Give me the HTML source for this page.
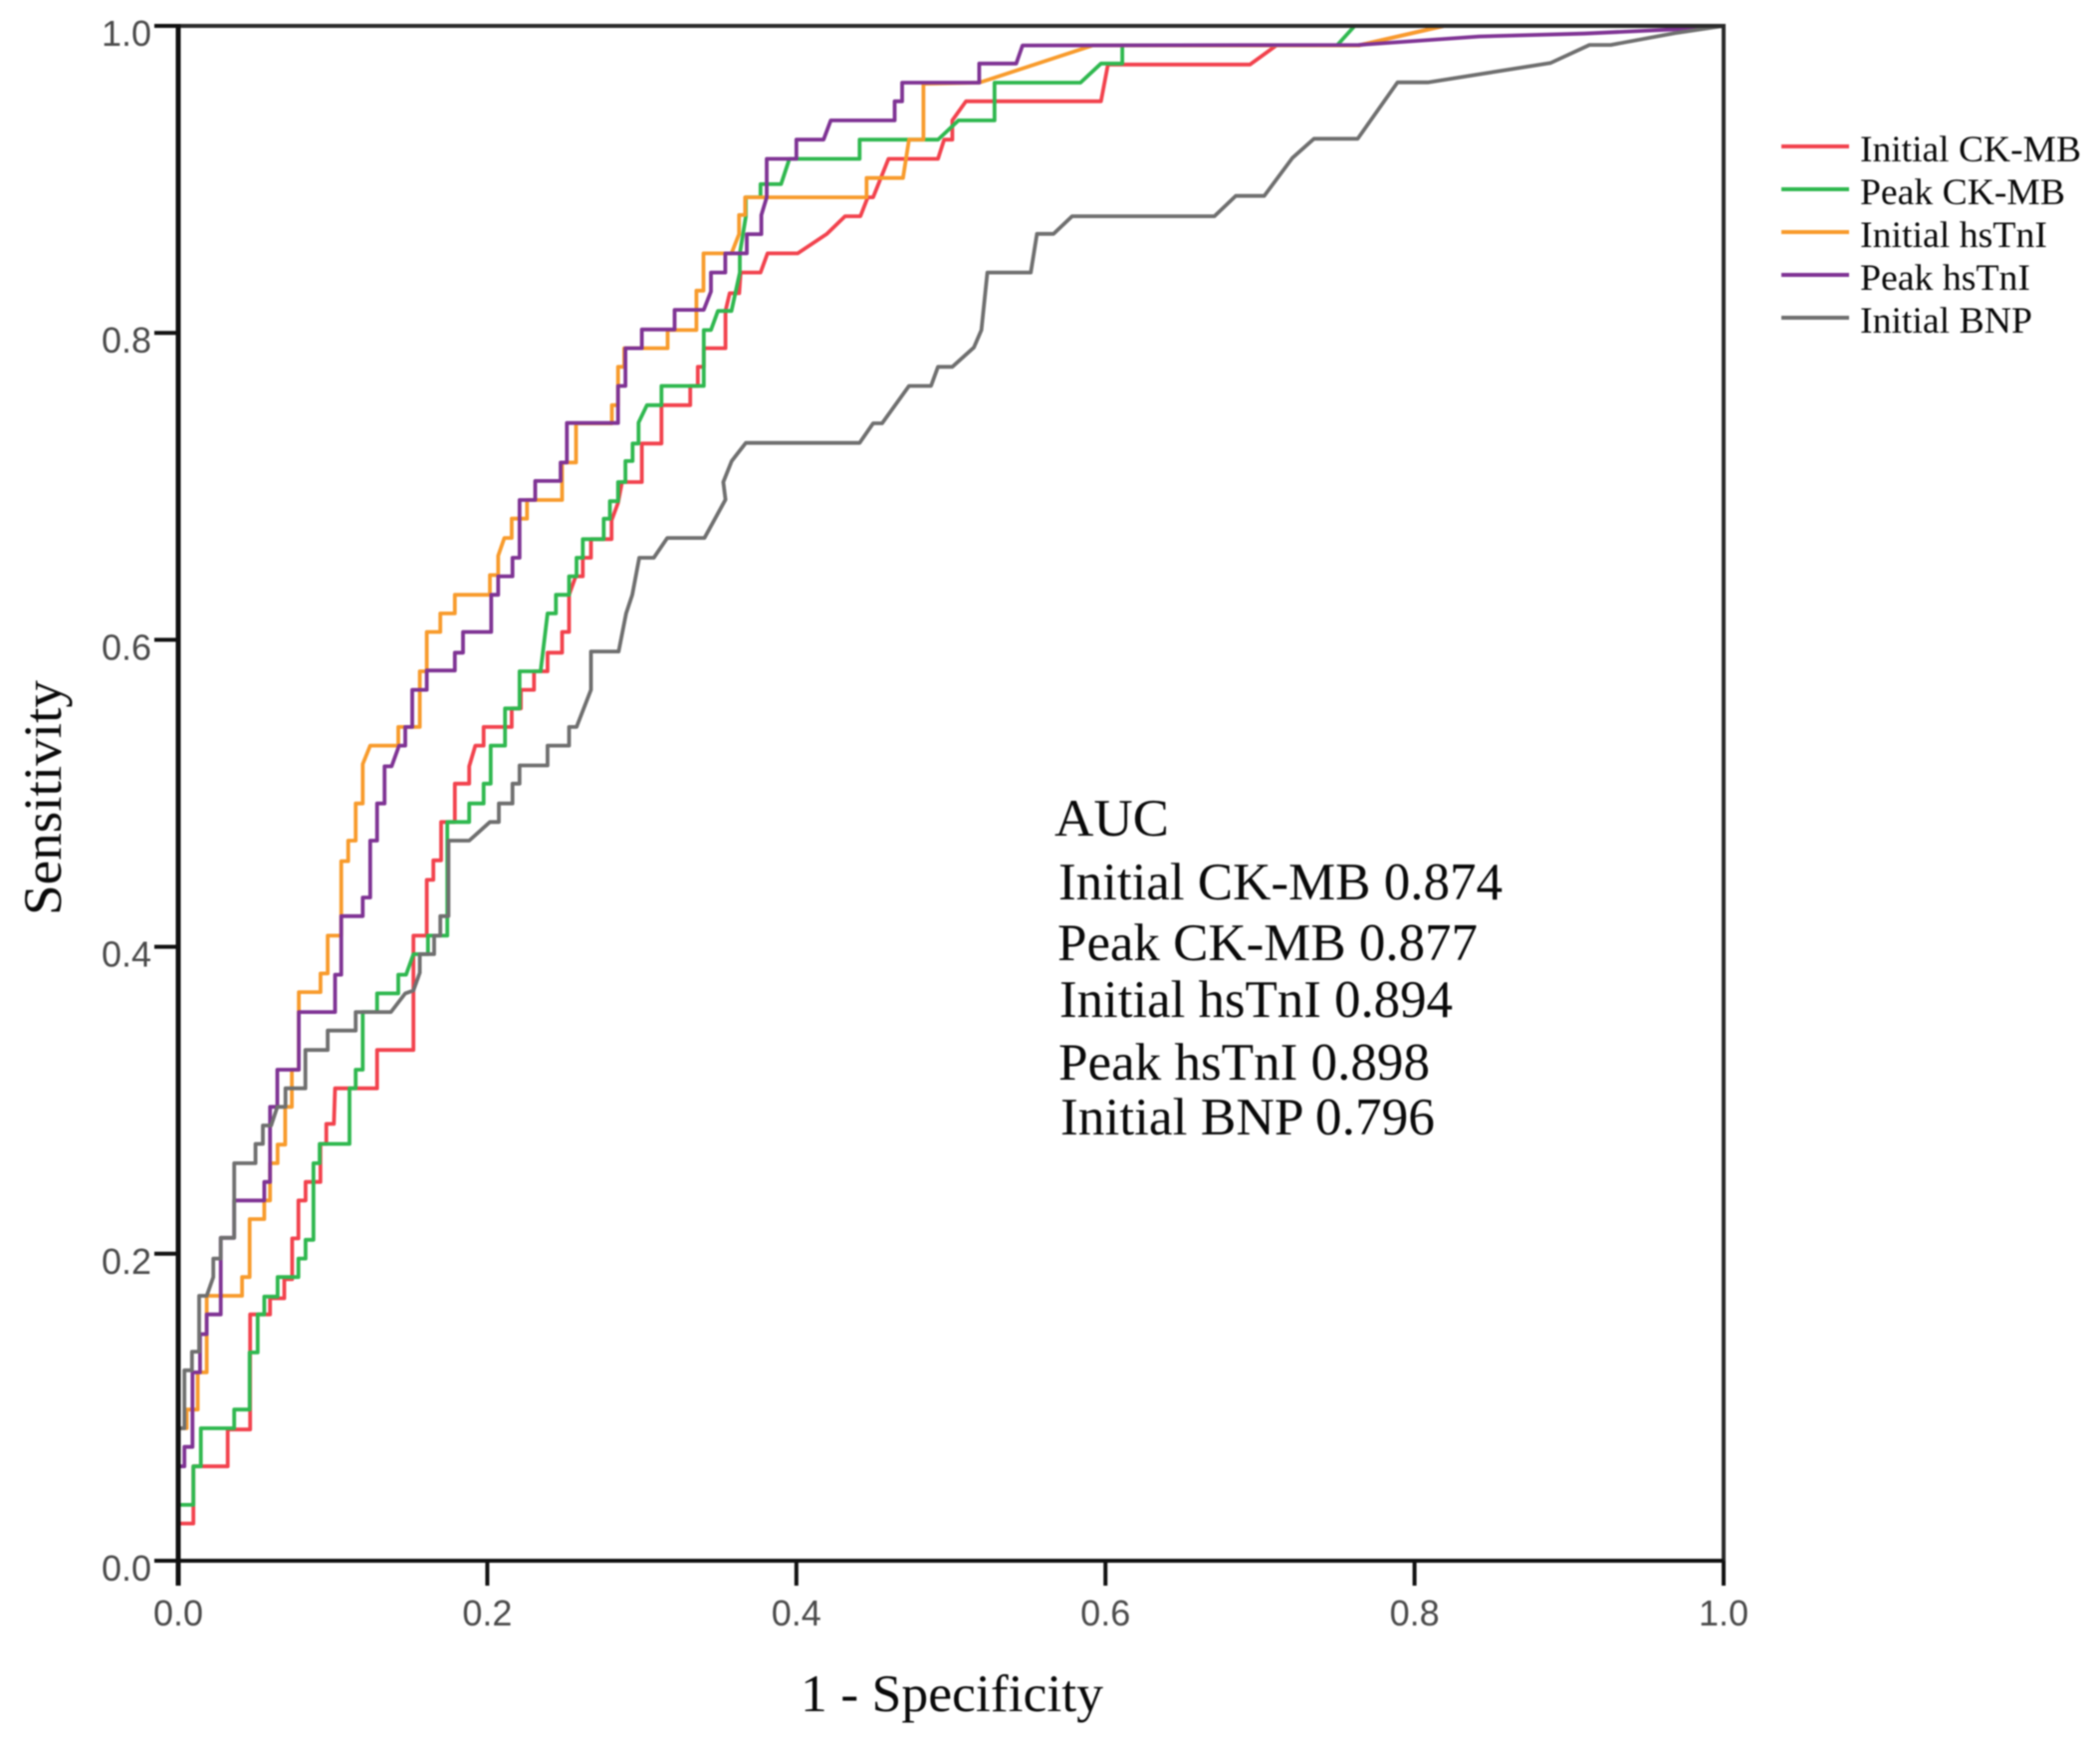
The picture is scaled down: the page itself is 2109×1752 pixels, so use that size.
<!DOCTYPE html>
<html lang="en">
<head>
<meta charset="utf-8">
<title>ROC curves</title>
<style>
  html, body { margin: 0; padding: 0; background: #fff; }
  #chart { display: block; width: 2109px; height: 1752px; }
  #chart-content { filter: blur(0.8px); }
  .serif { font-family: "Liberation Serif", serif; fill: #0a0a0a; }
  .tick-label { font-family: "Liberation Sans", sans-serif; font-size: 36px; fill: #4a4a4a; }
</style>
</head>
<body>
<svg id="chart" xmlns="http://www.w3.org/2000/svg" width="2109" height="1752" viewBox="0 0 2109 1752">
  <rect width="2109" height="1752" fill="#fff"/>
  <g id="chart-content">
    <g id="curves"></g>
    <rect x="179" y="26" width="1552" height="1541" fill="none" stroke="#2a2a2a" stroke-width="4"/>
    <g id="axes"></g>

    <text class="serif" x="804" y="1718" font-size="53" textLength="304" lengthAdjust="spacingAndGlyphs">1 - Specificity</text>
    <text class="serif" transform="translate(61 919) rotate(-90)" font-size="54" textLength="236" lengthAdjust="spacingAndGlyphs">Sensitivity</text>

    <g>
      <g>
        <line x1="1789" x2="1857" y1="147" y2="147" stroke="#f2424d" stroke-width="4"/>
        <text class="serif" x="1868" y="162" font-size="37" textLength="222" lengthAdjust="spacingAndGlyphs">Initial CK-MB</text>
      </g>
      <g>
        <line x1="1789" x2="1857" y1="190" y2="190" stroke="#2fb84f" stroke-width="4"/>
        <text class="serif" x="1868" y="205" font-size="37" textLength="206" lengthAdjust="spacingAndGlyphs">Peak CK-MB</text>
      </g>
      <g>
        <line x1="1789" x2="1857" y1="233" y2="233" stroke="#f89b2c" stroke-width="4"/>
        <text class="serif" x="1868" y="248" font-size="37" textLength="188" lengthAdjust="spacingAndGlyphs">Initial hsTnI</text>
      </g>
      <g>
        <line x1="1789" x2="1857" y1="276" y2="276" stroke="#7f3394" stroke-width="4"/>
        <text class="serif" x="1868" y="291" font-size="37" textLength="171" lengthAdjust="spacingAndGlyphs">Peak hsTnI</text>
      </g>
      <g>
        <line x1="1789" x2="1857" y1="319" y2="319" stroke="#6f6f6f" stroke-width="4"/>
        <text class="serif" x="1868" y="334" font-size="37" textLength="173" lengthAdjust="spacingAndGlyphs">Initial BNP</text>
      </g>
    </g>

    <g>
      <text class="serif" x="1059" y="839" font-size="53" textLength="115" lengthAdjust="spacingAndGlyphs">AUC</text>
      <text class="serif" x="1063" y="903" font-size="53" textLength="446" lengthAdjust="spacingAndGlyphs">Initial CK-MB 0.874</text>
      <text class="serif" x="1062" y="964" font-size="53" textLength="422" lengthAdjust="spacingAndGlyphs">Peak CK-MB 0.877</text>
      <text class="serif" x="1064" y="1021" font-size="53" textLength="395" lengthAdjust="spacingAndGlyphs">Initial hsTnI 0.894</text>
      <text class="serif" x="1063" y="1084" font-size="53" textLength="373" lengthAdjust="spacingAndGlyphs">Peak hsTnI 0.898</text>
      <text class="serif" x="1065" y="1139" font-size="53" textLength="376" lengthAdjust="spacingAndGlyphs">Initial BNP 0.796</text>
    </g>
  </g>
</svg>
<script>
const xTickLabels = ["0.0", "0.2", "0.4", "0.6", "0.8", "1.0"];
const yTickLabels = ["0.0", "0.2", "0.4", "0.6", "0.8", "1.0"];
const xTickValues = [0, 0.2, 0.4, 0.6, 0.8, 1];
const yTickValues = [0, 0.2, 0.4, 0.6, 0.8, 1];

const initialCkMbFpr = [0,.0098,.0098,.032,.032,.0465,.0465,.0594,.0594,.0686,.0686,.0737,.0737,.0778,.0778,.0824,.0824,.092,.092,.0958,.0958,.1007,.1015,.1287,.1287,.1522,.1522,.1608,.1608,.1651,.1651,.1701,.1701,.179,.179,.1883,.1883,.1923,.1976,.1976,.2158,.2158,.2217,.2217,.2302,.2302,.239,.239,.2484,.2484,.2529,.2529,.2572,.2618,.2618,.2671,.2671,.2804,.2804,.2846,.2872,.3,.3,.3127,.3127,.3313,.3313,.3362,.3362,.3401,.3401,.3541,.3541,.3568,.363,.3639,.3768,.3813,.4008,.4195,.4315,.4414,.4462,.4497,.4596,.4916,.4956,.5009,.5009,.5097,.5971,.6016,.6935,.7106,.7637,.819,1];
const initialCkMbTpr = [.0243,.0243,.0615,.0615,.0855,.0855,.1605,.1605,.171,.171,.1834,.1834,.21,.21,.2347,.2347,.2468,.2468,.2716,.2716,.2846,.2846,.3078,.3078,.3328,.3328,.4073,.4073,.4436,.4436,.4563,.4563,.4813,.4813,.5063,.5063,.5176,.5311,.5311,.5432,.5432,.5553,.5553,.5674,.5674,.5795,.5795,.5916,.5916,.6051,.6051,.6293,.6414,.6414,.6535,.6535,.6656,.6656,.6778,.6892,.7028,.7028,.7279,.7279,.7529,.7529,.7654,.7654,.7779,.7779,.79,.79,.8143,.8258,.8258,.8393,.8393,.8518,.8518,.8643,.876,.876,.8883,.8883,.9134,.9134,.9259,.9259,.9384,.9509,.9509,.9748,.9748,.9873,.9873,1,1];

const peakCkMbFpr = [0,.0098,.0098,.0146,.0146,.0362,.0362,.0462,.0462,.0514,.0514,.0557,.0557,.0643,.0643,.0778,.0778,.0824,.0824,.0875,.0875,.0915,.0915,.1108,.1108,.1148,.1148,.1194,.1194,.1287,.1287,.1424,.1424,.1474,.1522,.1616,.1616,.1741,.1741,.1883,.1883,.1976,.1976,.2022,.2022,.2115,.2115,.2209,.2209,.2345,.239,.2444,.2444,.2529,.2529,.2577,.2577,.2618,.2618,.2753,.2753,.2793,.2793,.2846,.2846,.2894,.2894,.294,.294,.2979,.2979,.3033,.3127,.3127,.3401,.3401,.3447,.3492,.358,.3634,.3634,.3673,.3673,.3768,.3768,.3901,.3955,.4409,.4409,.4916,.5049,.5282,.5282,.5838,.5971,.6109,.6109,.7498,.7613,1];
const peakCkMbTpr = [.0364,.0364,.0615,.0615,.0863,.0863,.0985,.0985,.1357,.1357,.1605,.1605,.1721,.1721,.1848,.1848,.1969,.1969,.2091,.2091,.259,.259,.2716,.2716,.3078,.3078,.3199,.3199,.3575,.3575,.3696,.3696,.3818,.3818,.3952,.3952,.4073,.4073,.4813,.4813,.4934,.4934,.5063,.5063,.5311,.5311,.5553,.5553,.5795,.5795,.6172,.6172,.6293,.6293,.6414,.6414,.6535,.6535,.6656,.6656,.6789,.6789,.6903,.6903,.7028,.7028,.7165,.7165,.7279,.7279,.7415,.7529,.7529,.7654,.7654,.8018,.8018,.8143,.8143,.8393,.8518,.8758,.8883,.8883,.8969,.8969,.9134,.9134,.9259,.9259,.9384,.9384,.963,.963,.9755,.9755,.9873,.9873,1,1];

const initialHsTnIFpr = [0,.0055,.0055,.0126,.0126,.0184,.0184,.0413,.0413,.0462,.0462,.0557,.0557,.0594,.0594,.0643,.0643,.0692,.0692,.0735,.0735,.078,.078,.0921,.0921,.0967,.0967,.1055,.1055,.11,.11,.1148,.1148,.1194,.1194,.1242,.1424,.1424,.1563,.1563,.1608,.1608,.1696,.1696,.179,.179,.2017,.2017,.207,.207,.211,.2158,.2158,.2257,.2257,.2484,.2484,.2574,.2574,.2806,.2806,.2846,.2846,.2886,.2886,.3167,.3167,.3353,.3353,.3399,.3399,.358,.3629,.3629,.3668,.3668,.4454,.4454,.469,.4729,.4822,.4822,.5183,.5918,.7637,.819,1];
const initialHsTnITpr = [.0863,.0863,.0985,.0985,.1227,.1227,.1726,.1726,.1848,.1848,.2226,.2226,.2347,.2347,.259,.259,.2711,.2711,.2957,.2957,.3199,.3199,.3705,.3705,.3826,.3826,.4073,.4073,.4558,.4558,.4692,.4692,.4934,.4934,.519,.5311,.5311,.5432,.5432,.5795,.5795,.6051,.6051,.6172,.6172,.6293,.6293,.6422,.6422,.6548,.6664,.6664,.679,.679,.6911,.6911,.7155,.7155,.741,.741,.7529,.7529,.7779,.7779,.79,.79,.8018,.8018,.8275,.8275,.8518,.8518,.8643,.8768,.8768,.8883,.8883,.9009,.9009,.9259,.9259,.9623,.963,.9873,.9873,1,1];

const peakHsTnIFpr = [0,.004,.004,.0092,.0092,.0141,.0141,.0184,.0184,.0275,.0275,.0362,.0362,.0557,.0557,.0594,.0594,.0641,.0641,.078,.078,.1015,.1015,.1055,.1055,.1194,.1194,.1242,.1242,.1287,.1287,.1335,.1335,.1381,.1429,.1469,.1469,.1514,.1514,.1608,.1608,.179,.179,.1843,.1843,.2025,.2025,.207,.207,.2163,.2163,.2209,.2209,.231,.231,.2474,.2474,.2515,.2515,.2846,.2846,.2894,.2894,.3,.3,.3212,.3212,.3401,.3447,.3447,.354,.354,.3679,.3679,.3773,.3773,.3808,.3808,.4,.4,.4176,.4222,.4636,.4636,.4684,.4684,.5183,.5183,.5423,.5463,.7637,.842,.91,.9731,1];
const peakHsTnITpr = [.0615,.0615,.0742,.0742,.1227,.1227,.1476,.1476,.1605,.1605,.2104,.2104,.2347,.2347,.2468,.2468,.2957,.2957,.3199,.3199,.3575,.3575,.3818,.3818,.42,.42,.4321,.4321,.4692,.4692,.4934,.4934,.5176,.5176,.5311,.5311,.5432,.5432,.5674,.5674,.58,.58,.5916,.5916,.6051,.6051,.6293,.6293,.6414,.6414,.6535,.6535,.6911,.6911,.7035,.7035,.7155,.7155,.7413,.7413,.7654,.7654,.79,.79,.8022,.8022,.815,.815,.8269,.8393,.8393,.8518,.8518,.8643,.8643,.8768,.8883,.9134,.9134,.9259,.9259,.9384,.9384,.9509,.9509,.963,.963,.9755,.9755,.9873,.9876,.9931,.995,.998,1];

const initialBnpFpr = [0,.004,.004,.0089,.0089,.0135,.0135,.0184,.0227,.0227,.0275,.0275,.0362,.0362,.05,.05,.0548,.0548,.0601,.0641,.0694,.0694,.0823,.0823,.0967,.0967,.1148,.1148,.1376,.1469,.1522,.1563,.1563,.1656,.1656,.1696,.1696,.1749,.1749,.1883,.2017,.2075,.2075,.2163,.2163,.2209,.2209,.239,.239,.2529,.2529,.2577,.2671,.2671,.285,.2898,.2938,.2983,.3077,.3165,.3405,.3541,.3527,.3581,.3673,.4409,.4497,.4555,.4729,.4871,.4916,.5009,.5149,.5197,.5236,.5517,.5557,.5664,.5784,.6705,.6843,.7027,.7211,.7349,.7632,.789,.8085,.8879,.9132,.927,.9685,1];
const initialBnpTpr = [.0863,.0863,.1241,.1241,.1362,.1362,.1726,.1726,.1848,.1969,.1969,.2104,.2104,.259,.259,.2716,.2716,.2836,.2836,.2957,.2957,.3078,.3078,.3328,.3328,.3454,.3454,.3575,.3575,.3696,.3715,.3831,.3952,.3952,.4073,.4073,.42,.42,.4692,.4692,.4813,.4813,.4934,.4934,.5063,.5063,.5182,.5182,.5311,.5311,.5432,.5432,.5674,.5924,.5924,.6172,.6293,.6535,.6535,.6664,.6664,.6914,.7028,.7165,.7283,.7283,.7411,.7411,.7654,.7654,.7779,.7779,.7905,.8018,.8393,.8393,.8645,.8645,.876,.876,.8892,.8892,.9141,.9265,.9265,.9632,.9632,.9758,.9876,.9876,.9953,1];

const SVG_NS = "http://www.w3.org/2000/svg";
function xScale(v) { return 179 + v * 1552; }
function yScale(v) { return 1567 - v * 1541; }

const curvesLayer = document.getElementById("curves");
const axesLayer = document.getElementById("axes");

function drawCurve(name, fpr, tpr, color) {
  let d = "";
  for (let i = 0; i < fpr.length; i++) {
    d += (i === 0 ? "M" : "L") + xScale(fpr[i]).toFixed(1) + " " + yScale(tpr[i]).toFixed(1);
  }
  const path = document.createElementNS(SVG_NS, "path");
  path.setAttribute("d", d);
  path.setAttribute("fill", "none");
  path.setAttribute("stroke", color);
  path.setAttribute("stroke-width", "3.8");
  path.setAttribute("stroke-linejoin", "round");
  
  
  curvesLayer.appendChild(path);
}

drawCurve("curve-initial-ck-mb", initialCkMbFpr, initialCkMbTpr, "#f2424d");
drawCurve("curve-peak-ck-mb", peakCkMbFpr, peakCkMbTpr, "#2fb84f");
drawCurve("curve-initial-hstni", initialHsTnIFpr, initialHsTnITpr, "#f89b2c");
drawCurve("curve-peak-hstni", peakHsTnIFpr, peakHsTnITpr, "#7f3394");
drawCurve("curve-initial-bnp", initialBnpFpr, initialBnpTpr, "#6f6f6f");

function drawLine(x1, y1, x2, y2, width, name) {
  const line = document.createElementNS(SVG_NS, "line");
  line.setAttribute("x1", x1);
  line.setAttribute("y1", y1);
  line.setAttribute("x2", x2);
  line.setAttribute("y2", y2);
  line.setAttribute("stroke", "#111");
  line.setAttribute("stroke-width", width);
  
  
  axesLayer.appendChild(line);
}

function drawLabel(x, y, anchor, content, name) {
  const label = document.createElementNS(SVG_NS, "text");
  label.setAttribute("x", x);
  label.setAttribute("y", y);
  label.setAttribute("text-anchor", anchor);
  label.setAttribute("class", "tick-label");
  
  
  label.textContent = content;
  axesLayer.appendChild(label);
}

drawLine(xScale(0), yScale(1) - 2, xScale(0), yScale(0) + 25, 5, "y-axis-line");
drawLine(xScale(0) - 24, yScale(0), xScale(1), yScale(0), 4, "x-axis-line");

xTickValues.forEach(function (v, i) {
  drawLine(xScale(v), yScale(0), xScale(v), yScale(0) + 25, 4, "x-tick-" + xTickLabels[i]);
  drawLabel(xScale(v), 1632, "middle", xTickLabels[i], "x-tick-label-" + xTickLabels[i]);
});

yTickValues.forEach(function (v, i) {
  drawLine(xScale(0) - 24, yScale(v), xScale(0), yScale(v), 4, "y-tick-" + yTickLabels[i]);
  drawLabel(152, yScale(v) + 20, "end", yTickLabels[i], "y-tick-label-" + yTickLabels[i]);
});
</script>
</body>
</html>
